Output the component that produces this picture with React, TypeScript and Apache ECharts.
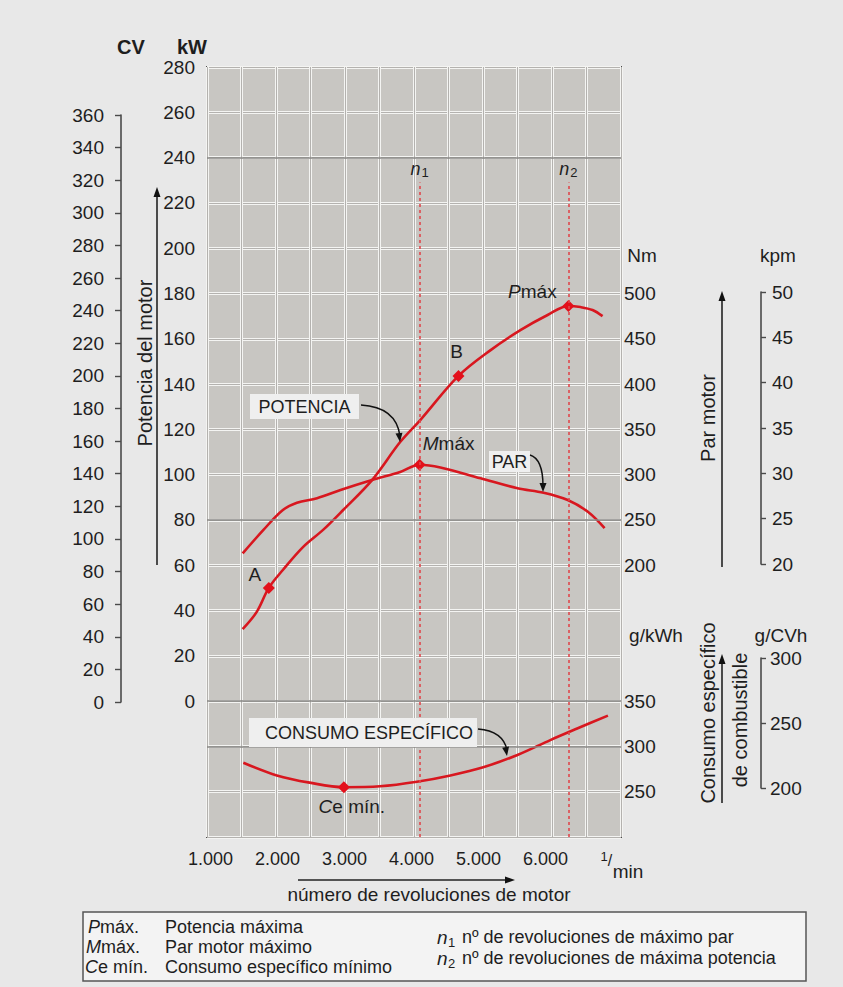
import { useEffect, useRef } from "react";
import * as echarts from "echarts";

// ---------- data ----------
const powerRpm = [1480, 1690, 1870, 2080, 2380, 2680, 2980, 3410, 3830, 4130, 4700, 5180, 5630, 6030, 6340, 6520, 6700, 6850];
const powerKw = [31.8, 39.4, 50, 57.9, 68, 75.6, 84.4, 97.6, 114.4, 124.1, 143.6, 155, 163.9, 170.5, 174.5, 174, 172.7, 170];

const torqueRpm = [1480, 1790, 2080, 2290, 2590, 2940, 3410, 3830, 4120, 4430, 5030, 5580, 5970, 6330, 6630, 6880];
const torqueNm = [213, 239, 261, 269, 274, 283, 294, 303, 311, 308, 296, 285, 280, 272, 259, 241];

const consRpm = [1490, 1990, 2480, 2990, 3530, 4080, 4580, 5070, 5580, 6070, 6480, 6930];
const consGkwh = [282, 268, 260, 255, 256, 261, 268, 277, 290.5, 307, 320, 334];

// indices of the marked points
const idxA = 2;
const idxB = 10;
const idxPmax = 14;
const idxMmax = 8;
const idxCemin = 3;

const n1 = torqueRpm[idxMmax];
const n2 = powerRpm[idxPmax];

const rpmTickLabels = [1000, 2000, 3000, 4000, 5000, 6000];
const darkGridKw = [240, 80, 0, -20];

const kwRange = { min: -60, max: 280, step: 20, labelMin: 0, labelMax: 280 };
const nmRange = { min: -100, max: 750, step: 50, labelMin: 200, labelMax: 500 };
const gRange = { min: 200, max: 1050, step: 50, labelMin: 250, labelMax: 350 };
const cvRange = { min: 0, max: 360, step: 20 };
const kpmRange = { min: 20, max: 50, step: 5 };
const gcvRange = { min: 200, max: 300, step: 50 };
const rpmRange = { min: 948, max: 7125 };
const dashTopKw = 229;

// ---------- styles ----------
const FONT = "'Liberation Sans', Arial, Helvetica, sans-serif";
const INK = "#1e1e1e";
const RED = "#d8171f";
const AX = "#4a4a4a";
const LEG = 18;

function txt(text: string, x: number, y: number, o: any = {}) {
  return {
    type: "text",
    x,
    y,
    rotation: o.rotation || 0,
    scaleX: o.scaleX || 1,
    z: 50,
    style: {
      text,
      fill: o.fill || INK,
      fontSize: o.size || 18,
      fontFamily: FONT,
      fontWeight: o.weight || "normal",
      fontStyle: o.style || "normal",
      textAlign: o.align || "center",
      align: o.align || "center",
      textVerticalAlign: "middle",
      verticalAlign: "middle",
      rich: o.rich,
    },
  };
}

function head(tx: number, ty: number, dx: number, dy: number, len = 9, w = 3.5) {
  const l = Math.hypot(dx, dy);
  const ux = dx / l, uy = dy / l;
  const bx = tx - ux * len, by = ty - uy * len;
  return {
    type: "polygon",
    z: 50,
    shape: { points: [[tx, ty], [bx - uy * w, by + ux * w], [bx + uy * w, by - ux * w]] },
    style: { fill: "#111" },
  };
}

function vline(x: number, y1: number, y2: number) {
  return { type: "line", z: 50, shape: { x1: x, y1, x2: x, y2 }, style: { stroke: "#222", lineWidth: 1.6 } };
}

function curveArrow(x1: number, y1: number, cx: number, cy: number, x2: number, y2: number) {
  return [
    { type: "bezierCurve", z: 50, shape: { x1, y1, cpx1: cx, cpy1: cy, x2, y2 }, style: { stroke: "#111", lineWidth: 1.5, fill: null } },
    head(x2, y2 + 6, x2 - cx, y2 - cy + 6, 9, 3.5),
  ];
}

function box(x: number, y: number, w: number, h: number) {
  return { type: "rect", z: 45, shape: { x, y, width: w, height: h }, style: { fill: "#efefef" } };
}

const italicRich = (size: number) => ({
  i: { fontStyle: "italic", fontSize: size, fontFamily: FONT, color: INK },
  r: { fontSize: size, fontFamily: FONT, color: INK },
});

const rangeFmt = (lo: number, hi: number) => (v: number) => (v >= lo && v <= hi ? String(v) : "");

function legendLine(text: string, x: number, y: number, rich?: any) {
  return txt(text, x, y, { align: "left", size: LEG, rich });
}

export default function App() {
  const ref = useRef<HTMLDivElement>(null);
  useEffect(() => {
    if (!ref.current) return;
    const chart = echarts.init(ref.current, undefined, { renderer: "svg" });

    const pair = (xs: number[], ys: number[]) => xs.map((x, i) => [x, ys[i]]);

    const pointLabel = (text: string, offset: number[]) => ({
      show: true,
      position: "inside",
      offset,
      formatter: text,
      rich: italicRich(19),
      fontSize: 19,
      fontFamily: FONT,
      color: INK,
    });

    const keyItem = { color: "#e3101b", opacity: 1 };

    const option: any = {
      animation: false,
      backgroundColor: "#e8e8e8",
      textStyle: { fontFamily: FONT, color: INK },
      grid: [
        { left: 207, top: 67, width: 414, height: 770, show: true, backgroundColor: "#c8c6c2", borderColor: AX, borderWidth: 2 },
        { left: 121, top: 115, width: 1, height: 587 },
        { left: 761, top: 292, width: 1, height: 272 },
        { left: 761, top: 658, width: 1, height: 130 },
      ],
      xAxis: [
        {
          gridIndex: 0, type: "value", min: rpmRange.min, max: rpmRange.max,
          axisLine: { show: false }, axisTick: { show: false }, splitLine: { show: false },
          axisLabel: {
            customValues: rpmTickLabels,
            formatter: (v: number) => `${Math.round(v / 1000)}.000`,
            fontSize: 18, color: INK, margin: 13, fontFamily: FONT,
          },
        },
        {
          gridIndex: 0, type: "value", min: 0, max: 12, interval: 1,
          axisLine: { show: false }, axisTick: { show: false }, axisLabel: { show: false },
          splitLine: { show: true, lineStyle: { color: "#f4f4f2", width: 3 } },
        },
        {
          gridIndex: 0, type: "value", min: 0, max: 12, interval: 1,
          axisLine: { show: false }, axisTick: { show: false }, axisLabel: { show: false },
          splitLine: { show: true, lineStyle: { color: "#a3a19d", width: 0.8 } },
        },
        { gridIndex: 1, type: "value", show: false },
        { gridIndex: 2, type: "value", show: false },
        { gridIndex: 3, type: "value", show: false },
      ],
      yAxis: [
        {
          gridIndex: 0, type: "value", position: "left", min: kwRange.min, max: kwRange.max, interval: kwRange.step,
          axisLine: { show: false }, axisTick: { show: false },
          axisLabel: { formatter: rangeFmt(kwRange.labelMin, kwRange.labelMax), fontSize: 19, color: INK, margin: 12, fontFamily: FONT },
          splitLine: { show: true, lineStyle: { color: "#f4f4f2", width: 3 } },
        },
        {
          gridIndex: 0, type: "value", position: "right", min: nmRange.min, max: nmRange.max, interval: nmRange.step,
          axisLine: { show: false }, axisTick: { show: false },
          axisLabel: { formatter: rangeFmt(nmRange.labelMin, nmRange.labelMax), fontSize: 19, color: INK, margin: 3, fontFamily: FONT },
          splitLine: { show: true, lineStyle: { color: "#a3a19d", width: 0.8 } },
        },
        {
          gridIndex: 0, type: "value", position: "right", min: gRange.min, max: gRange.max, interval: gRange.step,
          axisLine: { show: false }, axisTick: { show: false },
          axisLabel: { formatter: rangeFmt(gRange.labelMin, gRange.labelMax), fontSize: 19, color: INK, margin: 3, fontFamily: FONT },
          splitLine: { show: false },
        },
        {
          gridIndex: 1, type: "value", position: "left", min: cvRange.min, max: cvRange.max, interval: cvRange.step,
          axisLine: { show: true, lineStyle: { color: AX, width: 1.6 } },
          axisTick: { show: true, length: 6, lineStyle: { color: AX, width: 1.4 } },
          axisLabel: { fontSize: 19, color: INK, margin: 17, fontFamily: FONT },
          splitLine: { show: false },
        },
        {
          gridIndex: 2, type: "value", position: "right", min: kpmRange.min, max: kpmRange.max, interval: kpmRange.step,
          axisLine: { show: true, lineStyle: { color: AX, width: 1.6 } },
          axisTick: { show: true, length: 5, lineStyle: { color: AX, width: 1.4 } },
          axisLabel: { fontSize: 19, color: INK, margin: 10, fontFamily: FONT },
          splitLine: { show: false },
        },
        {
          gridIndex: 3, type: "value", position: "right", min: gcvRange.min, max: gcvRange.max, interval: gcvRange.step,
          axisLine: { show: true, lineStyle: { color: AX, width: 1.6 } },
          axisTick: { show: true, length: 5, lineStyle: { color: AX, width: 1.4 } },
          axisLabel: { fontSize: 19, color: INK, margin: 8, fontFamily: FONT },
          splitLine: { show: false },
        },
      ],
      series: [
        {
          type: "line", xAxisIndex: 0, yAxisIndex: 0, data: [], z: 1, silent: true,
          markLine: {
            silent: true, symbol: ["none", "none"], animation: false,
            data: [
              ...darkGridKw.map((v) => ({ yAxis: v, lineStyle: { color: "#8a8986", width: 1.6, type: "solid" }, label: { show: false } })),
              ...[
                { x: n1, sub: "1" },
                { x: n2, sub: "2" },
              ].map((d) => [
                {
                  coord: [d.x, kwRange.min],
                  lineStyle: { color: "#e0474c", width: 1.6, type: [3, 3] },
                  label: {
                    show: true, position: "end", distance: 4,
                    formatter: `{n|n}{s|${d.sub}}`,
                    rich: {
                      n: { fontStyle: "italic", fontSize: 18, color: INK, fontFamily: FONT },
                      s: { fontSize: 13, color: INK, fontFamily: FONT, padding: [7, 0, 0, 1] },
                    },
                  },
                },
                { coord: [d.x, dashTopKw] },
              ]),
            ],
          },
        },
        {
          name: "Potencia", type: "line", xAxisIndex: 0, yAxisIndex: 0, smooth: 0.35, showSymbol: false, z: 3,
          data: pair(powerRpm, powerKw), lineStyle: { color: RED, width: 2.6 },
        },
        {
          name: "Par", type: "line", xAxisIndex: 0, yAxisIndex: 1, smooth: 0.35, showSymbol: false, z: 3,
          data: pair(torqueRpm, torqueNm), lineStyle: { color: RED, width: 2.6 },
        },
        {
          name: "Consumo", type: "line", xAxisIndex: 0, yAxisIndex: 2, smooth: 0.35, showSymbol: false, z: 3,
          data: pair(consRpm, consGkwh), lineStyle: { color: RED, width: 2.6 },
        },
        {
          type: "scatter", xAxisIndex: 0, yAxisIndex: 0, symbol: "diamond", symbolSize: 12, z: 4,
          itemStyle: keyItem,
          data: [
            { value: [powerRpm[idxA], powerKw[idxA]], label: pointLabel("A", [-14, -13]) },
            { value: [powerRpm[idxB], powerKw[idxB]], label: pointLabel("B", [-2, -24]) },
            { value: [powerRpm[idxPmax], powerKw[idxPmax]], label: pointLabel("{i|P}{r|máx}", [-36, -14]) },
          ],
        },
        {
          type: "scatter", xAxisIndex: 0, yAxisIndex: 1, symbol: "diamond", symbolSize: 12, z: 4,
          itemStyle: keyItem,
          data: [{ value: [torqueRpm[idxMmax], torqueNm[idxMmax]], label: pointLabel("{i|M}{r|máx}", [29, -21]) }],
        },
        {
          type: "scatter", xAxisIndex: 0, yAxisIndex: 2, symbol: "diamond", symbolSize: 12, z: 4,
          itemStyle: keyItem,
          data: [{ value: [consRpm[idxCemin], consGkwh[idxCemin]], label: pointLabel("{i|C}{r|e mín.}", [8, 19]) }],
        },
      ],
      graphic: [
        txt("CV", 131, 47, { size: 20, weight: "bold" }),
        txt("kW", 192, 47, { size: 20, weight: "bold" }),
        txt("Potencia del motor", 145, 363, { size: 20, rotation: Math.PI / 2 }),
        vline(157, 565, 196),
        head(157, 187, 0, -1, 10, 3.5),
        txt("Nm", 642, 255, { size: 19 }),
        txt("kpm", 778, 255, { size: 19 }),
        txt("Par motor", 708, 418, { size: 20, rotation: Math.PI / 2 }),
        vline(722, 567, 300),
        head(722, 291, 0, -1, 10, 3.5),
        txt("g/kWh", 656, 635, { size: 19 }),
        txt("g/CVh", 781, 635, { size: 19 }),
        txt("Consumo específico", 708, 713, { size: 20, rotation: Math.PI / 2 }),
        txt("de combustible", 740, 720, { size: 20, rotation: Math.PI / 2 }),
        vline(722, 803, 662),
        head(722, 654, 0, -1, 10, 3.5),
        txt("1", 604, 856, { size: 13 }),
        txt("/", 610, 860, { size: 16 }),
        txt("min", 628, 871, { size: 19 }),
        txt("número de revoluciones de motor", 429, 894, { size: 19 }),
        { type: "line", z: 50, shape: { x1: 298, y1: 880, x2: 506, y2: 880 }, style: { stroke: "#222", lineWidth: 1.6 } },
        head(515, 880, 1, 0, 10, 3.5),
        box(250, 394, 109, 25),
        txt("POTENCIA", 304.5, 407, { size: 18 }),
        ...curveArrow(361, 405, 396, 407, 400, 436),
        box(489, 451, 41, 21),
        txt("PAR", 509.5, 462, { size: 18 }),
        ...curveArrow(530, 455, 543, 459, 543, 486),
        box(249, 718, 228, 29),
        txt("CONSUMO ESPECÍFICO", 265, 733, { size: 18, align: "left" }),
        ...curveArrow(478, 729, 503, 731, 507, 750),
        { type: "rect", z: 40, shape: { x: 83, y: 912, width: 723, height: 69 }, style: { fill: "#f3f3f3", stroke: "#555", lineWidth: 1.5 } },
        legendLine("{i|P}{r|máx.}", 88, 927, italicRich(LEG)),
        legendLine("{i|M}{r|máx.}", 86, 947, italicRich(LEG)),
        legendLine("{i|C}{r|e mín.}", 85, 967, italicRich(LEG)),
        legendLine("Potencia máxima", 165, 927),
        legendLine("Par motor máximo", 165, 947),
        legendLine("Consumo específico mínimo", 165, 967),
        txt("n", 437, 937, { align: "left", size: 19, style: "italic" }),
        txt("1", 448, 942, { align: "left", size: 13 }),
        legendLine("nº de revoluciones de máximo par", 462, 937),
        txt("n", 437, 958, { align: "left", size: 19, style: "italic" }),
        txt("2", 448, 963, { align: "left", size: 13 }),
        legendLine("nº de revoluciones de máxima potencia", 462, 958),
      ],
    };

    chart.setOption(option);
    return () => chart.dispose();
  }, []);

  return (
    <div
      ref={ref}
      style={{ position: "absolute", left: 0, top: 0, width: 843, height: 987 }}
    />
  );
}
